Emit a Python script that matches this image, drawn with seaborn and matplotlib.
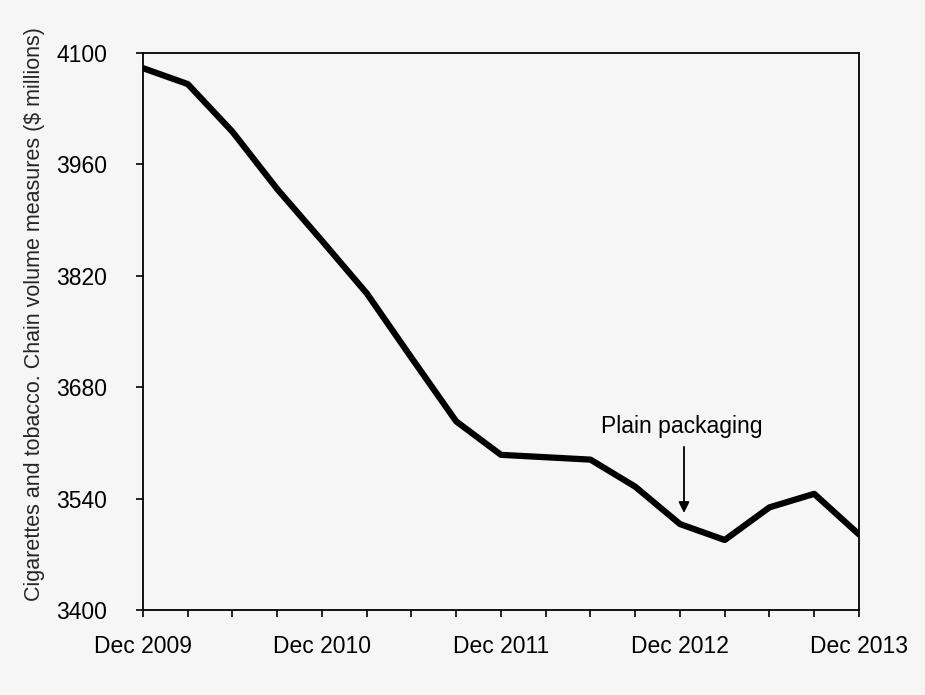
import matplotlib
matplotlib.use("Agg")
import matplotlib.pyplot as plt
import seaborn as sns
import pandas as pd

# quarterly data, Dec 2009 .. Dec 2013
quarters = ['Dec 2009', 'Mar 2010', 'Jun 2010', 'Sep 2010',
            'Dec 2010', 'Mar 2011', 'Jun 2011', 'Sep 2011',
            'Dec 2011', 'Mar 2012', 'Jun 2012', 'Sep 2012',
            'Dec 2012', 'Mar 2013', 'Jun 2013', 'Sep 2013',
            'Dec 2013']
spend = [4081, 4061, 4001, 3929,
         3864, 3798, 3717, 3637,
         3595, 3592, 3589, 3555,
         3508, 3488, 3529, 3546,
         3495]
ylabel = 'Cigarettes and tobacco. Chain volume measures ($ millions)'
yticks = [3400, 3540, 3680, 3820, 3960, 4100]
note = 'Plain packaging'
note_quarter = 'Dec 2012'

df = pd.DataFrame({'quarter': quarters, 'spend': spend})
df['q'] = range(len(df))

sns.set_style('ticks')
plt.rcParams['font.family'] = ['Liberation Sans', 'DejaVu Sans']
bg = '#f6f6f6'

fig = plt.figure(figsize=(9.25, 6.95), dpi=100, facecolor=bg)
ax = fig.add_axes([0.1546, 0.1223, 0.774, 0.8014])
ax.set_facecolor(bg)

sns.lineplot(data=df, x='q', y='spend', color='black', linewidth=4.5, ax=ax)

ax.set_xlim(0, len(df) - 1)
ax.set_ylim(yticks[0], yticks[-1])
ax.set_yticks(yticks)
ax.set_xticks(df['q'])
ax.set_xticklabels([lab if lab.startswith('Dec') else '' for lab in df['quarter']])

for s in ax.spines.values():
    s.set_visible(True)
    s.set_linewidth(1.3)
    s.set_color('black')

ax.tick_params(axis='x', direction='out', length=5, width=1.2, pad=13,
               labelsize=16.5, colors='black')
ax.tick_params(axis='y', direction='out', length=5, width=1.2, pad=21,
               labelsize=16.5, colors='black')
ax.set_xlabel('')
ax.set_ylabel(ylabel, fontsize=15.5)
ax.yaxis.set_label_coords(-0.137, 0.532)

# annotation above the Dec 2012 point
i = quarters.index(note_quarter)
ax.annotate('', xy=(i + 0.09, spend[i] + 14), xytext=(i + 0.09, spend[i] + 97),
            arrowprops=dict(arrowstyle='-|>', color='black', lw=1.3,
                            mutation_scale=16, shrinkA=0, shrinkB=0))
ax.text(i + 0.04, spend[i] + 122, note, ha='center', va='center',
        fontsize=16.5, color='black')

fig.savefig('out.png', dpi=100, facecolor=bg)
